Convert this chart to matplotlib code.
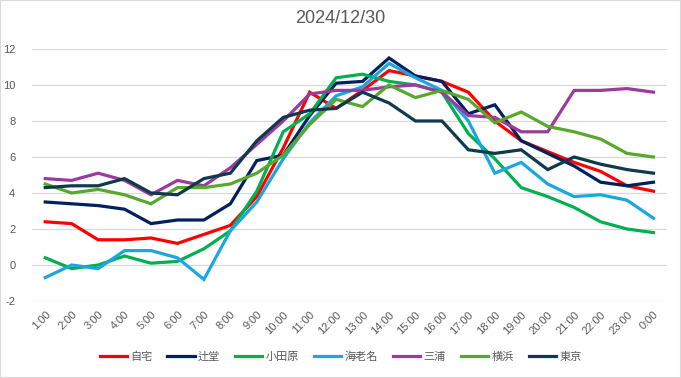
import matplotlib
matplotlib.use("Agg")
import matplotlib.pyplot as plt
from matplotlib.patches import Rectangle

plt.rcParams['font.family'] = ['Liberation Sans', 'Noto Sans CJK JP', 'DejaVu Sans']
plt.rcParams['axes.unicode_minus'] = False

# hours 1:00 ... 23:00, 0:00
hours = [f"{h}:00" for h in range(1, 24)] + ["0:00"]

jitaku = [2.4, 2.3, 1.4, 1.4, 1.5, 1.2, 1.7, 2.2, 3.8, 6.5, 9.6, 8.7,
          9.7, 10.8, 10.5, 10.2, 9.6, 8.0, 6.9, 6.3, 5.7, 5.2, 4.4, 4.1]
tsujido = [3.5, 3.4, 3.3, 3.1, 2.3, 2.5, 2.5, 3.4, 5.8, 6.1, 8.3, 10.1,
           10.2, 11.5, 10.5, 10.2, 8.4, 8.9, 6.9, 6.2, 5.5, 4.6, 4.4, 4.6]
odawara = [0.4, -0.2, 0.0, 0.5, 0.1, 0.2, 0.9, 1.9, 4.1, 7.4, 8.4, 10.4,
           10.6, 10.2, 10.0, 9.6, 7.3, 5.9, 4.3, 3.8, 3.2, 2.4, 2.0, 1.8]
ebina = [-0.7, 0.0, -0.2, 0.8, 0.8, 0.4, -0.8, 1.9, 3.5, 5.9, 7.9, 9.4,
         9.9, 11.2, 10.4, 9.7, 8.0, 5.1, 5.7, 4.5, 3.8, 3.9, 3.6, 2.6]
miura = [4.8, 4.7, 5.1, 4.7, 3.9, 4.7, 4.4, 5.4, 6.7, 8.0, 9.5, 9.7,
         9.7, 9.9, 10.0, 9.6, 8.3, 8.2, 7.4, 7.4, 9.7, 9.7, 9.8, 9.6]
yokohama = [4.5, 4.0, 4.2, 3.9, 3.4, 4.3, 4.3, 4.5, 5.1, 6.1, 7.8, 9.2,
            8.8, 10.0, 9.3, 9.7, 9.2, 7.9, 8.5, 7.7, 7.4, 7.0, 6.2, 6.0]
tokyo = [4.3, 4.4, 4.4, 4.8, 4.0, 3.9, 4.8, 5.1, 6.9, 8.2, 8.6, 8.7,
         9.6, 9.0, 8.0, 8.0, 6.4, 6.2, 6.4, 5.3, 6.0, 5.6, 5.3, 5.1]

series = [
    ("自宅", jitaku, "#FF0000"),
    ("辻堂", tsujido, "#002060"),
    ("小田原", odawara, "#00B050"),
    ("海老名", ebina, "#1AA7E0"),
    ("三浦", miura, "#9C3A9E"),
    ("横浜", yokohama, "#58A82C"),
    ("東京", tokyo, "#0E3A4C"),
]

fig = plt.figure(figsize=(6.81, 3.78), dpi=100)
ax = fig.add_axes([0.047, 0.2037, 0.932, 0.6667])

x = list(range(len(hours)))
for name, vals, col in series:
    ax.plot(x, vals, color=col, lw=2.3, label=name, solid_joinstyle='miter')

ax.set_xlim(-0.5, len(hours) - 0.5)
ax.set_ylim(-2, 12)
ax.set_yticks(range(-2, 13, 2))
ax.set_xticks(x)
ax.set_xticklabels(hours, rotation=45, ha='right', rotation_mode='anchor')
ax.tick_params(axis='both', length=0, labelsize=8, colors='#595959', pad=6)
ax.tick_params(axis='y', pad=12)
ax.grid(axis='y', color='#D9D9D9', lw=0.9)
ax.set_axisbelow(True)
for s in ax.spines.values():
    s.set_visible(False)

fig.text(0.5, 0.952, "2024/12/30", ha='center', va='center', fontsize=13, color='#595959')

fig.legend(loc='center', bbox_to_anchor=(0.5, 0.056), ncol=7, frameon=False,
           fontsize=8, handlelength=2.45, columnspacing=1.35, handletextpad=0.3,
           labelcolor='#595959')

fig.patches.append(Rectangle((0, 0), 1, 1, transform=fig.transFigure, fill=False,
                             edgecolor='#D9D9D9', lw=1.5))

fig.savefig("out.png", dpi=100, facecolor='white')
